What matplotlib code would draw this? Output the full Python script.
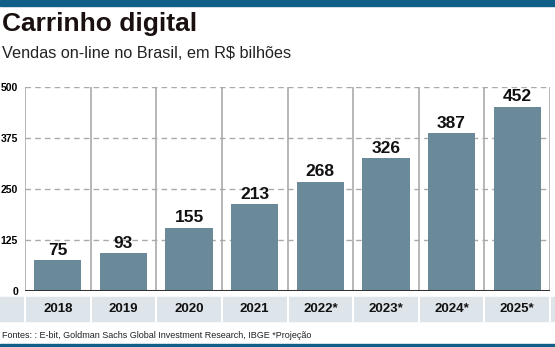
import matplotlib
matplotlib.use("Agg")
import matplotlib.pyplot as plt
from matplotlib.patches import Rectangle
from matplotlib.lines import Line2D

categories = ["2018", "2019", "2020", "2021", "2022*", "2023*", "2024*", "2025*"]
values = [75, 93, 155, 213, 268, 326, 387, 452]
yticks = [0, 125, 250, 375, 500]

narrow = ["Liberation Sans Narrow", "Liberation Sans", "DejaVu Sans"]
plt.rcParams['font.family'] = ["Liberation Sans", "DejaVu Sans"]

W, H = 555, 347
fig = plt.figure(figsize=(W/100, H/100), dpi=100)
blue = "#0f5f89"
fig.patches.append(Rectangle((0, 1-6/H), 1, 6/H, transform=fig.transFigure, color=blue, zorder=0))
fig.patches.append(Rectangle((0, 0), 1, 3/H, transform=fig.transFigure, color=blue, zorder=0))

fig.text(2/W, 1-24/H, "Carrinho digital", fontsize=19, fontweight="bold", family=narrow, va="center", ha="left", color="#1a1010")
fig.text(2/W, 1-54/H, "Vendas on-line no Brasil, em R$ bilhões", fontsize=11.7, family=narrow, va="center", ha="left", color="#222222")
fig.text(2/W, 1-336/H, "Fontes: : E-bit, Goldman Sachs Global Investment Research, IBGE *Projeção", fontsize=6.5, family=narrow, va="center", ha="left", color="#222222")

left, right = 25/W, 550/W
bottom, top = 1-291/H, 1-87/H
ax = fig.add_axes([left, bottom, right-left, top-bottom])
n = len(categories)
x = list(range(n))
ax.bar(x, values, width=0.72, color="#6b8a99", zorder=3)
for xi, v in zip(x, values):
    ax.text(xi, v + 6, str(v), ha="center", va="bottom", fontsize=12.5, fontweight="bold", color="#111111", zorder=4)
ax.set_xlim(-0.5, n-0.5)
ax.set_ylim(0, 500)
for yt in yticks[1:]:
    ax.axhline(yt, color="#aaaaaa", lw=1, ls=(0, (4, 3)), zorder=1)
for b in [i-0.5 for i in range(n+1)]:
    ax.axvline(b, color="#aaaaaa", lw=1.2, zorder=2)
ax.axhline(0, color="#333333", lw=2.2, zorder=5)
for s in ax.spines.values():
    s.set_visible(False)
ax.set_xticks([])
ax.set_yticks(yticks)
ax.set_yticklabels([str(t) for t in yticks], fontsize=7.5, fontweight="bold")
ax.tick_params(axis="y", length=0, pad=5)
ax.patch.set_alpha(0)

# category band
band_bottom, band_top = 1-321/H, 1-297/H
fig.patches.append(Rectangle((0, band_bottom), 1, band_top-band_bottom, transform=fig.transFigure, color="#dde4ea", zorder=0))
cw = (right-left)/n
for i in range(n+1):
    xb = left + i*cw
    fig.add_artist(Line2D([xb, xb], [band_bottom, band_top], transform=fig.transFigure, color="white", lw=1.5))
for i, c in enumerate(categories):
    fig.text(left + (i+0.5)*cw, (band_bottom+band_top)/2, c, ha="center", va="center", fontsize=9.5, fontweight="bold", color="#111111")

fig.savefig("out.png", dpi=100)
